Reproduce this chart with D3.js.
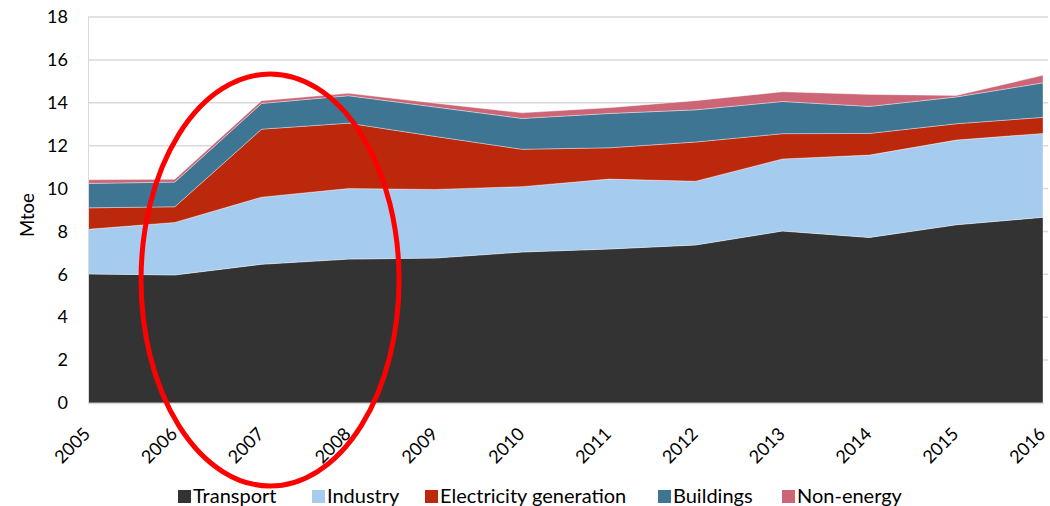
<!DOCTYPE html>
<html>
<head>
<meta charset="utf-8">
<script src="https://cdn.jsdelivr.net/npm/d3@7"></script>
<style>
  html, body { margin: 0; padding: 0; background: #fff; }
  svg { display: block; }
  text { font-family: Lato, "Open Sans", sans-serif; fill: #000; }
</style>
</head>
<body>
<svg id="chart" width="1050" height="506"></svg>
<script>
// Final energy consumption by sector, Mtoe
const years = ["2005","2006","2007","2008","2009","2010","2011","2012","2013","2014","2015","2016"];
const transport   = [6.02, 5.97, 6.47, 6.71, 6.76, 7.04, 7.18, 7.37, 8.02, 7.72, 8.31, 8.66];
const industry    = [2.08, 2.45, 3.13, 3.29, 3.20, 3.05, 3.26, 2.97, 3.36, 3.84, 3.95, 3.91];
const electricity = [1.00, 0.73, 3.17, 3.05, 2.47, 1.74, 1.46, 1.83, 1.18, 1.01, 0.76, 0.75];
const buildings   = [1.14, 1.15, 1.20, 1.28, 1.37, 1.44, 1.60, 1.50, 1.50, 1.26, 1.25, 1.61];
const nonEnergy   = [0.17, 0.13, 0.13, 0.11, 0.18, 0.26, 0.27, 0.43, 0.45, 0.56, 0.07, 0.35];
const yTicks = [0, 2, 4, 6, 8, 10, 12, 14, 16, 18];

const seriesNames = ["Transport", "Industry", "Electricity generation", "Buildings", "Non-energy"];
const seriesValues = [transport, industry, electricity, buildings, nonEnergy];
const colors = ["#333333", "#a5cbee", "#bc280b", "#3d7593", "#cc6677"];

const rows = years.map((yr, i) => {
  const r = { year: yr };
  seriesNames.forEach((n, k) => r[n] = seriesValues[k][i]);
  return r;
});

const svg = d3.select("#chart");
const plotLeft = 88, plotRight = 1043, plotTop = 17, plotBottom = 403;

const x = d3.scalePoint().domain(years).range([plotLeft, plotRight]);
const y = d3.scaleLinear().domain([0, 18]).range([plotBottom, plotTop]);

// gridlines
svg.append("g")
  .selectAll("line")
  .data(yTicks.filter(t => t > 0))
  .join("line")
  .attr("x1", plotLeft).attr("x2", plotRight + 5)
  .attr("y1", d => y(d)).attr("y2", d => y(d))
  .attr("stroke", "#d9d9d9").attr("stroke-width", 1.5);

// stacked areas
const stack = d3.stack().keys(seriesNames);
const layers = stack(rows);
const area = d3.area()
  .x(d => x(d.data.year))
  .y0(d => y(d[0]))
  .y1(d => y(d[1]));

svg.append("g")
  .selectAll("path")
  .data(layers)
  .join("path")
  .attr("d", area)
  .attr("fill", (d, i) => colors[i])
  .attr("stroke", "rgba(255,255,255,0.45)")
  .attr("stroke-width", 0.8)
  .attr("stroke-linejoin", "round");

// axes
const yAxis = svg.append("g")
  .attr("transform", `translate(${plotLeft},0)`)
  .call(d3.axisLeft(y).tickValues(yTicks).tickSize(0).tickPadding(20).tickFormat(d3.format("d")));
yAxis.select(".domain").attr("stroke", "#d9d9d9");
yAxis.selectAll("text").style("font-size", "18px").style("font-family", "Lato, sans-serif");

const xAxis = svg.append("g")
  .attr("transform", `translate(0,${plotBottom})`)
  .call(d3.axisBottom(x).tickSize(0).tickPadding(0));
xAxis.select(".domain").attr("stroke", "#d9d9d9").attr("stroke-width", 1.5);
xAxis.selectAll("text")
  .style("font-size", "18px")
  .style("font-family", "Lato, sans-serif")
  .attr("text-anchor", "end")
  .attr("dy", null)
  .attr("y", 0)
  .attr("transform", "translate(3,32) rotate(-45)");

// y axis title
svg.append("text")
  .attr("transform", "translate(34,215) rotate(-90)")
  .attr("text-anchor", "middle")
  .style("font-size", "18.5px")
  .text("Mtoe");

// highlight ellipse around the 2007-2008 surge
svg.append("ellipse")
  .attr("cx", (x("2007") + x("2008")) / 2 - 35)
  .attr("cy", 280)
  .attr("rx", 129)
  .attr("ry", 206)
  .attr("fill", "none")
  .attr("stroke", "#ff0000")
  .attr("stroke-width", 5);

// legend
const legendX = [178, 312, 425, 658, 782];
const legend = svg.append("g").attr("transform", "translate(0,503)");
seriesNames.forEach((n, i) => {
  const g = legend.append("g").attr("transform", `translate(${legendX[i]},0)`);
  g.append("rect").attr("x", 0).attr("y", -13).attr("width", 13).attr("height", 13).attr("fill", colors[i]);
  g.append("text").attr("x", 15).attr("y", 0).style("font-size", "20px").text(n);
});
</script>
</body>
</html>
